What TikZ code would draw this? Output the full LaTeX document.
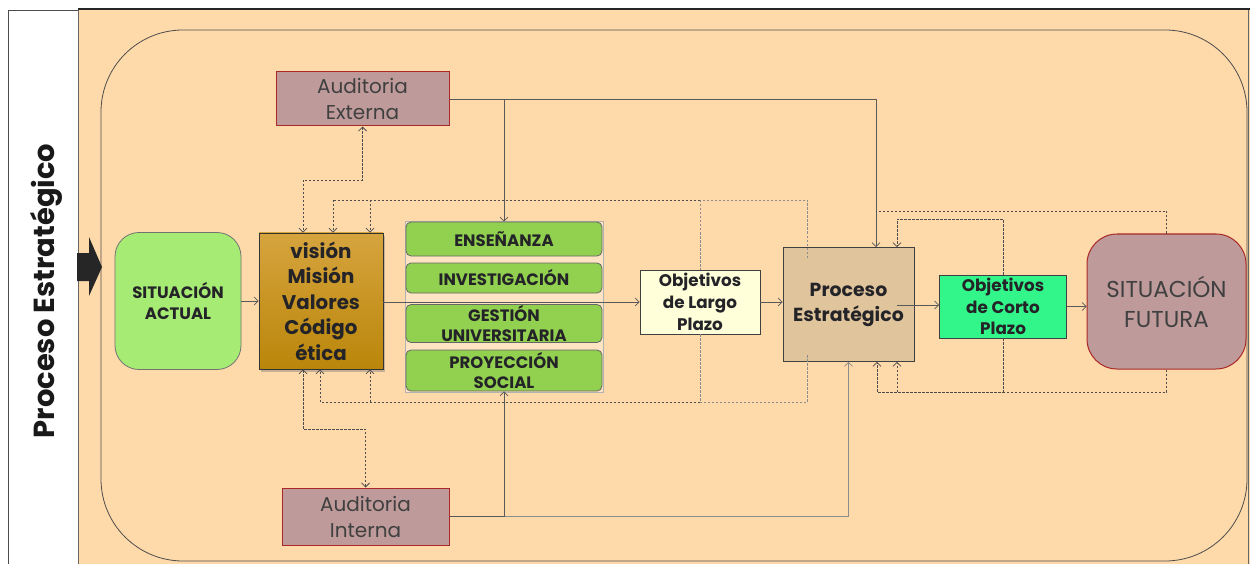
\documentclass[tikz,border=0pt]{standalone}
\usepackage{fontspec}
\setmainfont{Poppins}
\usetikzlibrary{arrows.meta,shadows,calc}
\definecolor{peach}{RGB}{254,217,170}
\definecolor{peachlt}{RGB}{255,228,196}
\definecolor{sagreen}{RGB}{166,235,116}
\definecolor{lgreen}{RGB}{146,208,80}
\definecolor{goldtop}{RGB}{214,164,62}
\definecolor{goldbot}{RGB}{186,134,10}
\definecolor{tanbox}{RGB}{224,196,156}
\definecolor{spring}{RGB}{50,246,138}
\definecolor{cream}{RGB}{255,255,218}
\definecolor{rosy}{RGB}{190,154,154}
\definecolor{redb}{RGB}{170,40,40}
\definecolor{txt}{RGB}{36,36,40}
\begin{document}
\begin{tikzpicture}[x=1pt,y=-1pt,
  box/.style={draw=black!75, line width=0.8pt, inner sep=0pt, align=center, text=txt},
  gbox/.style={box, draw=black!60, rounded corners=5pt, fill=lgreen, minimum width=196pt,
    font=\bfseries\fontsize{16.5}{20}\selectfont},
  audit/.style={box, draw=redb, line width=1pt, fill=rosy, minimum width=170pt, text=black!75,
    font=\fontsize{20}{26}\selectfont},
  tipb/.tip={Straight Barb[length=4pt,width=8pt]},
  sline/.style={draw=black!65, line width=0.7pt},
  sarr/.style={sline, -tipb},
  dline/.style={draw=black!70, line width=0.75pt, dash pattern=on 2.5pt off 1.5pt},
  dtip/.style={-tipb},
  dboth/.style={tipb-tipb}]
\useasboundingbox (0,0) rectangle (1250,564);
% frame
\fill[white] (0,0) rectangle (1250,564);
\draw[black!70, fill=white] (8,10) rectangle (78,570);
\fill[peach] (78,9) rectangle (1250,570);
\draw[black!60] (78,9) -- (78,570);
\draw[black!60] (1248.5,9) -- (1248.5,570);
\draw[black!85, line width=2pt] (78,9) -- (1250,9);
\draw[black!70, line width=0.8pt, rounded corners=82pt] (101,30) rectangle (1247,561);
% title and entry arrow
\node[rotate=90, anchor=base, text=black!90, font=\bfseries\fontsize{29}{32}\selectfont] (title) at (54,291) {Proceso Estratégico};
\fill[black!85] (77,253) -- (89,253) -- (89,237) -- (102,267) -- (89,296) -- (89,281) -- (77,281) -- cycle;
% nodes
\node[box, rounded corners=24pt, fill=sagreen, draw=black!55, minimum width=126pt, minimum height=137pt,
  font=\bfseries\fontsize{16.5}{21}\selectfont] (sa) at (178,301) {SITUACIÓN\\ACTUAL};
\node[box, top color=goldtop, bottom color=goldbot, draw=black!80,
  drop shadow={shadow xshift=2pt, shadow yshift=-3pt, opacity=0.45},
  minimum width=124pt, minimum height=136pt,
  font=\bfseries\fontsize{19.8}{25.5}\selectfont] (vis) at (321,301) {visión\\Misión\\Valores\\Código\\ética};
\node[draw=black!30, fill=peachlt, minimum width=198pt, minimum height=171pt, inner sep=0pt] (grp) at (504,306.5) {};
\node[gbox, minimum height=34pt] (ens) at (504,239) {ENSEÑANZA};
\node[gbox, minimum height=30pt] (inv) at (504,278) {INVESTIGACIÓN};
\node[gbox, minimum height=38pt] (ges) at (504,323.5) {GESTIÓN\\UNIVERSITARIA};
\node[gbox, minimum height=41pt] (pro) at (504,370.5) {PROYECCIÓN\\SOCIAL};
\node[box, fill=cream, minimum width=120pt, minimum height=64pt,
  font=\bfseries\fontsize{16.8}{22}\selectfont] (olp) at (700,302) {Objetivos\\de Largo\\Plazo};
\node[box, fill=tanbox, minimum width=131pt, minimum height=114pt,
  font=\bfseries\fontsize{18.9}{25}\selectfont] (pe) at (848.5,304.5) {Proceso\\Estratégico};
\node[box, fill=spring, minimum width=127pt, minimum height=63pt,
  font=\bfseries\fontsize{16.8}{21.5}\selectfont] (ocp) at (1003,306.5) {Objetivos\\de Corto\\Plazo};
\node[box, rounded corners=30pt, fill=rosy, draw=redb, line width=1pt, text=black!75,
  minimum width=159pt, minimum height=135pt,
  font=\fontsize{23}{30}\selectfont] (sf) at (1166.5,301.5) {SITUACIÓN\\FUTURA};
\node[audit, minimum width=173pt, minimum height=54pt] (ae) at (362.5,99) {Auditoria\\Externa};
\node[audit, minimum width=167pt, minimum height=57pt] (ai) at (365.5,516.5) {Auditoria\\Interna};
% solid connectors
\draw[sarr] (sa) -- (vis);
\draw[sarr] (vis.east |- olp.west) -- (olp.west);
\draw[sarr] (olp.east) -- (pe.west |- olp.east);
\coordinate (p0) at (897,305);
\draw[sarr] (p0) -- (ocp.west |- p0);
\draw[sarr] (ocp.east) -- (sf.west |- ocp.east);
\coordinate (j1) at (876,99);
\draw[sline] (ae.east) -- (j1);
\draw[sarr] (j1) -- (j1 |- pe.north);
\draw[sarr] (ens.north |- ae.east) -- (ens.north);
\draw[sline, draw=black!45] (ai.east) -- (pe.south |- ai.east);
\draw[sline] (ai.east) -- (pro.south |- ai.east);
\draw[sarr, draw=black!45] (pe.south |- ai.east) -- (pe.south);
\draw[sarr] (pro.south |- ai.east) -- (pro.south);
% dashed: audits <-> vision
\coordinate (d1) at (303,180);
\draw[dline, dboth] (ae.south) |- (d1) -- (d1 |- vis.north);
\coordinate (d2) at (303,429);
\draw[dline, dboth] (d2 |- vis.south) -- (d2) -| (ai.north);
% dashed: top feedback
\coordinate (t0) at (807,258);
\coordinate (t1) at (807,200);
\coordinate (t2) at (333,200);
\coordinate (t3) at (370,200);
\coordinate (t4) at (700,200);
\draw[dline, draw=black!45] (t0) -- (t1) -- (t4);
\draw[dline] (t4) -- (t2);
\draw[dline, dtip] (t2) -- (t2 |- vis.north);
\draw[dline, dtip] (t3) -- (t3 |- vis.north);
\draw[dline, draw=black!45] (t4) -- (olp.north);
\coordinate (b4) at (700,402);
\draw[dline, draw=black!45] (olp.south) -- (b4);
% dashed: bottom feedback
\coordinate (b0) at (807,355);
\coordinate (b1) at (807,402);
\coordinate (b2) at (320,402);
\coordinate (b3) at (370,402);
\draw[dline, draw=black!45] (b0) -- (b1) -- (b4);
\draw[dline] (b4) -- (b2);
\draw[dline, dtip] (b2) -- (b2 |- vis.south);
\draw[dline, dtip] (b3) -- (b3 |- vis.south);
% dashed: right loop
\coordinate (r1) at (876,211);
\draw[dline] (sf.north) |- (r1);
\coordinate (r2) at (897,219);
\draw[dline, dtip] (ocp.north) |- (r2) -- (r2 |- pe.north);
\coordinate (r3) at (877,392);
\draw[dline, dtip] (ocp.south) |- (r3) -- (r3 |- pe.south);
\coordinate (r4) at (897,392);
\draw[dline, dtip] (sf.south) |- (r4) -- (r4 |- pe.south);
\end{tikzpicture}
\end{document}
